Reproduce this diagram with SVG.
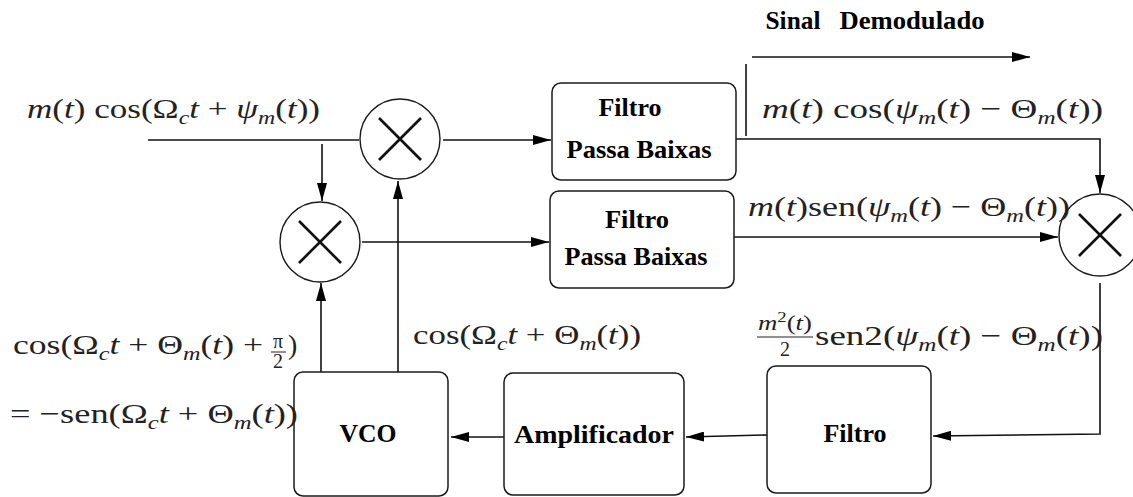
<svg xmlns="http://www.w3.org/2000/svg" width="1133" height="497" viewBox="0 0 1133 497">
<style>
.bg{fill:#fff}
.box{fill:#fff;stroke:#1a1a1a;stroke-width:1.5}
.circ{fill:#fff;stroke:#1a1a1a;stroke-width:1.4}
.x{stroke:#111;stroke-width:2.6;stroke-linecap:butt}
.c{fill:none;stroke:#111;stroke-width:1.6}
.lbl{font-family:"Times New Roman","Tinos","Nimbus Roman","FreeSerif","Liberation Serif","DejaVu Serif",serif;font-weight:bold;font-size:26px;fill:#000;text-anchor:middle}
.m{font-family:"Times New Roman","Tinos","Nimbus Roman","FreeSerif","Liberation Serif","DejaVu Serif",serif;font-size:28px;fill:#222}
.s{font-family:"Times New Roman","Tinos","Nimbus Roman","FreeSerif","Liberation Serif","DejaVu Serif",serif;font-size:20px;fill:#222;text-anchor:middle}
.it{font-style:italic}
.sub{font-size:19px;font-style:italic}
.fl{stroke:#222;stroke-width:1}
</style>
<defs>
<marker id="ah" markerUnits="userSpaceOnUse" markerWidth="18" markerHeight="10" refX="18" refY="5" orient="auto">
<path d="M0,0 L18,5 L0,10 z" fill="#000"/>
</marker>
</defs>
<rect class="bg" x="0" y="0" width="1133" height="497"/>

<g id="connectors">
<line class="c" x1="148" y1="140" x2="359" y2="140"/>
<line class="c" x1="322" y1="144" x2="322" y2="201" marker-end="url(#ah)"/>
<line class="c" x1="443" y1="140" x2="551" y2="140" marker-end="url(#ah)"/>
<line class="c" x1="362" y1="242" x2="549" y2="242" marker-end="url(#ah)"/>
<line class="c" x1="398" y1="372" x2="398" y2="181" marker-end="url(#ah)"/>
<line class="c" x1="321" y1="372" x2="321" y2="283" marker-end="url(#ah)"/>
<polyline class="c" points="736,139 1100,139 1100,193" marker-end="url(#ah)"/>
<line class="c" x1="746" y1="64" x2="746" y2="136"/>
<line class="c" x1="752" y1="57" x2="1030" y2="57" marker-end="url(#ah)"/>
<line class="c" x1="734" y1="237" x2="1058" y2="237" marker-end="url(#ah)"/>
<polyline class="c" points="1100,283 1100,434 933,436" marker-end="url(#ah)"/>
<line class="c" x1="767" y1="435" x2="686" y2="437" marker-end="url(#ah)"/>
<line class="c" x1="504" y1="437" x2="451" y2="437" marker-end="url(#ah)"/>
</g>

<g id="mult1">
<circle class="circ" cx="400" cy="139" r="40"/>
<line class="x" x1="379" y1="118" x2="421" y2="160"/>
<line class="x" x1="421" y1="118" x2="379" y2="160"/>
</g>
<g id="mult2">
<circle class="circ" cx="320" cy="242" r="40"/>
<line class="x" x1="299" y1="221" x2="341" y2="263"/>
<line class="x" x1="341" y1="221" x2="299" y2="263"/>
</g>
<g id="mult3">
<circle class="circ" cx="1100" cy="235" r="41"/>
<line class="x" x1="1079" y1="214" x2="1121" y2="256"/>
<line class="x" x1="1121" y1="214" x2="1079" y2="256"/>
</g>

<g id="lpf1">
<rect class="box" x="552" y="83" width="184" height="97" rx="9"/>
<text class="lbl" x="630" y="116" textLength="63" lengthAdjust="spacingAndGlyphs">Filtro</text>
<text class="lbl" x="639" y="158" textLength="145" lengthAdjust="spacingAndGlyphs">Passa Baixas</text>
</g>
<g id="lpf2">
<rect class="box" x="550" y="191" width="184" height="97" rx="9"/>
<text class="lbl" x="637" y="228" textLength="64" lengthAdjust="spacingAndGlyphs">Filtro</text>
<text class="lbl" x="636" y="265" textLength="143" lengthAdjust="spacingAndGlyphs">Passa Baixas</text>
</g>
<g id="vco">
<rect class="box" x="294" y="372" width="154" height="124" rx="9"/>
<text class="lbl" x="368" y="442" textLength="57" lengthAdjust="spacingAndGlyphs">VCO</text>
</g>
<g id="amp">
<rect class="box" x="504" y="373" width="180" height="122" rx="9"/>
<text class="lbl" x="594" y="443" textLength="160" lengthAdjust="spacingAndGlyphs">Amplificador</text>
</g>
<g id="filtro">
<rect class="box" x="767" y="366" width="164" height="127" rx="9"/>
<text class="lbl" x="855" y="442" textLength="63" lengthAdjust="spacingAndGlyphs">Filtro</text>
</g>

<g id="labels">
<text class="lbl" x="793" y="29" textLength="55" lengthAdjust="spacingAndGlyphs">Sinal</text>
<text class="lbl" x="912" y="29" textLength="145" lengthAdjust="spacingAndGlyphs">Demodulado</text>

<text class="m" x="27" y="118" textLength="293" lengthAdjust="spacingAndGlyphs"><tspan class="it">m</tspan>(<tspan class="it">t</tspan>) cos(Ω<tspan class="sub" dy="6">c</tspan><tspan class="it" dy="-6">t</tspan> + <tspan class="it">ψ</tspan><tspan class="sub" dy="6">m</tspan><tspan dy="-6">(</tspan><tspan class="it">t</tspan>))</text>

<text class="m" x="762" y="118" textLength="341" lengthAdjust="spacingAndGlyphs"><tspan class="it">m</tspan>(<tspan class="it">t</tspan>) cos(<tspan class="it">ψ</tspan><tspan class="sub" dy="6">m</tspan><tspan dy="-6">(</tspan><tspan class="it">t</tspan>) − Θ<tspan class="sub" dy="6">m</tspan><tspan dy="-6">(</tspan><tspan class="it">t</tspan>))</text>

<text class="m" x="748" y="216" textLength="322" lengthAdjust="spacingAndGlyphs"><tspan class="it">m</tspan>(<tspan class="it">t</tspan>)sen(<tspan class="it">ψ</tspan><tspan class="sub" dy="6">m</tspan><tspan dy="-6">(</tspan><tspan class="it">t</tspan>) − Θ<tspan class="sub" dy="6">m</tspan><tspan dy="-6">(</tspan><tspan class="it">t</tspan>))</text>

<text class="s" x="785" y="330" textLength="54" lengthAdjust="spacingAndGlyphs"><tspan class="it">m</tspan><tspan font-size="14" dy="-8">2</tspan><tspan dy="8">(</tspan><tspan class="it">t</tspan>)</text>
<line class="fl" x1="757" y1="337" x2="813" y2="337"/>
<text class="s" x="785" y="356">2</text>
<text class="m" x="815" y="345" textLength="288" lengthAdjust="spacingAndGlyphs">sen2(<tspan class="it">ψ</tspan><tspan class="sub" dy="6">m</tspan><tspan dy="-6">(</tspan><tspan class="it">t</tspan>) − Θ<tspan class="sub" dy="6">m</tspan><tspan dy="-6">(</tspan><tspan class="it">t</tspan>))</text>

<text class="m" x="413" y="344" textLength="228" lengthAdjust="spacingAndGlyphs">cos(Ω<tspan class="sub" dy="6">c</tspan><tspan class="it" dy="-6">t</tspan> + Θ<tspan class="sub" dy="6">m</tspan><tspan dy="-6">(</tspan><tspan class="it">t</tspan>))</text>

<text class="m" x="13" y="354" textLength="250" lengthAdjust="spacingAndGlyphs">cos(Ω<tspan class="sub" dy="6">c</tspan><tspan class="it" dy="-6">t</tspan> + Θ<tspan class="sub" dy="6">m</tspan><tspan dy="-6">(</tspan><tspan class="it">t</tspan>) +</text>
<text class="s" x="278" y="348">π</text>
<line class="fl" x1="271" y1="352" x2="286" y2="352"/>
<text class="s" x="278" y="368">2</text>
<text class="m" x="288" y="354">)</text>

<text class="m" x="10" y="423" textLength="288" lengthAdjust="spacingAndGlyphs">= −sen(Ω<tspan class="sub" dy="6">c</tspan><tspan class="it" dy="-6">t</tspan> + Θ<tspan class="sub" dy="6">m</tspan><tspan dy="-6">(</tspan><tspan class="it">t</tspan>))</text>
</g>
</svg>
